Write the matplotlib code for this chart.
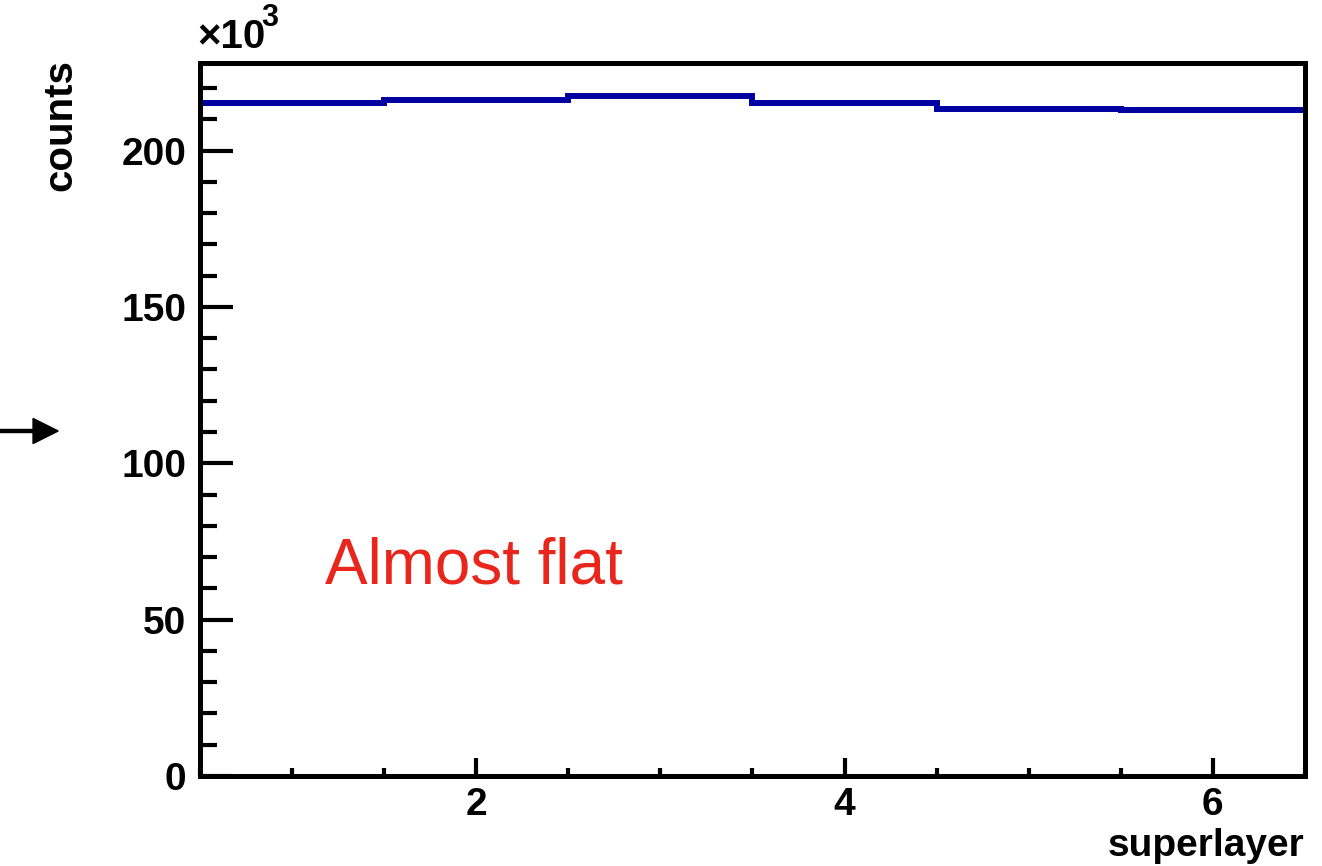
import matplotlib
matplotlib.use("Agg")
import matplotlib.pyplot as plt
from matplotlib.ticker import MultipleLocator

# Counts per superlayer (in units of 10^3)
superlayer = [1, 2, 3, 4, 5, 6]
counts = [215.3, 216.3, 217.5, 215.2, 213.3, 212.9]
edges = [0.5, 1.5, 2.5, 3.5, 4.5, 5.5, 6.5]

plt.rcParams["font.family"] = ["Liberation Sans", "DejaVu Sans"]

fig = plt.figure(figsize=(13.22, 8.66), dpi=100)
ax = fig.add_axes([0.1513, 0.1039, 0.8358, 0.8234])

ax.stairs(counts, edges, baseline=None, color="#0000a0", linewidth=4.3)

ax.set_xlim(0.5, 6.5)
ax.set_ylim(0, 228)

ax.xaxis.set_major_locator(MultipleLocator(2))
ax.xaxis.set_minor_locator(MultipleLocator(0.5))
ax.yaxis.set_major_locator(MultipleLocator(50))
ax.yaxis.set_minor_locator(MultipleLocator(10))

for side in ["left", "bottom", "top", "right"]:
    ax.spines[side].set_linewidth(3.6)

ax.tick_params(axis="y", which="major", direction="in", length=24, width=3,
               labelsize=28, pad=10)
ax.tick_params(axis="y", which="minor", direction="in", length=12, width=3)
ax.tick_params(axis="x", which="major", direction="in", length=13, width=3,
               labelsize=28, pad=8)
ax.tick_params(axis="x", which="minor", direction="in", length=6, width=3)
for lbl in ax.get_xticklabels() + ax.get_yticklabels():
    lbl.set_fontweight("bold")

# ROOT-style exponent label
fig.text(0.149, 0.935, "\u00d710", fontsize=29, fontweight="bold",
         ha="left", va="bottom")
fig.text(0.198, 0.962, "3", fontsize=22, fontweight="bold",
         ha="left", va="bottom")
fig.text(0.046, 0.932, "counts", rotation=90, fontsize=29, fontweight="bold",
         ha="center", va="top")
fig.text(0.987, 0.002, "superlayer", fontsize=28, fontweight="bold",
         ha="right", va="bottom")

ax.text(1.18, 67, "Almost flat", color="#e8261c", fontsize=46,
        ha="left", va="center")

fig.patches.append(matplotlib.patches.FancyArrow(
    0.0, 1 - 431 / 866, 0.044, 0, width=0.0035, head_width=0.029,
    head_length=0.019, length_includes_head=True, color="black",
    transform=fig.transFigure, figure=fig))

plt.savefig("out.png", dpi=100)
plt.close()
